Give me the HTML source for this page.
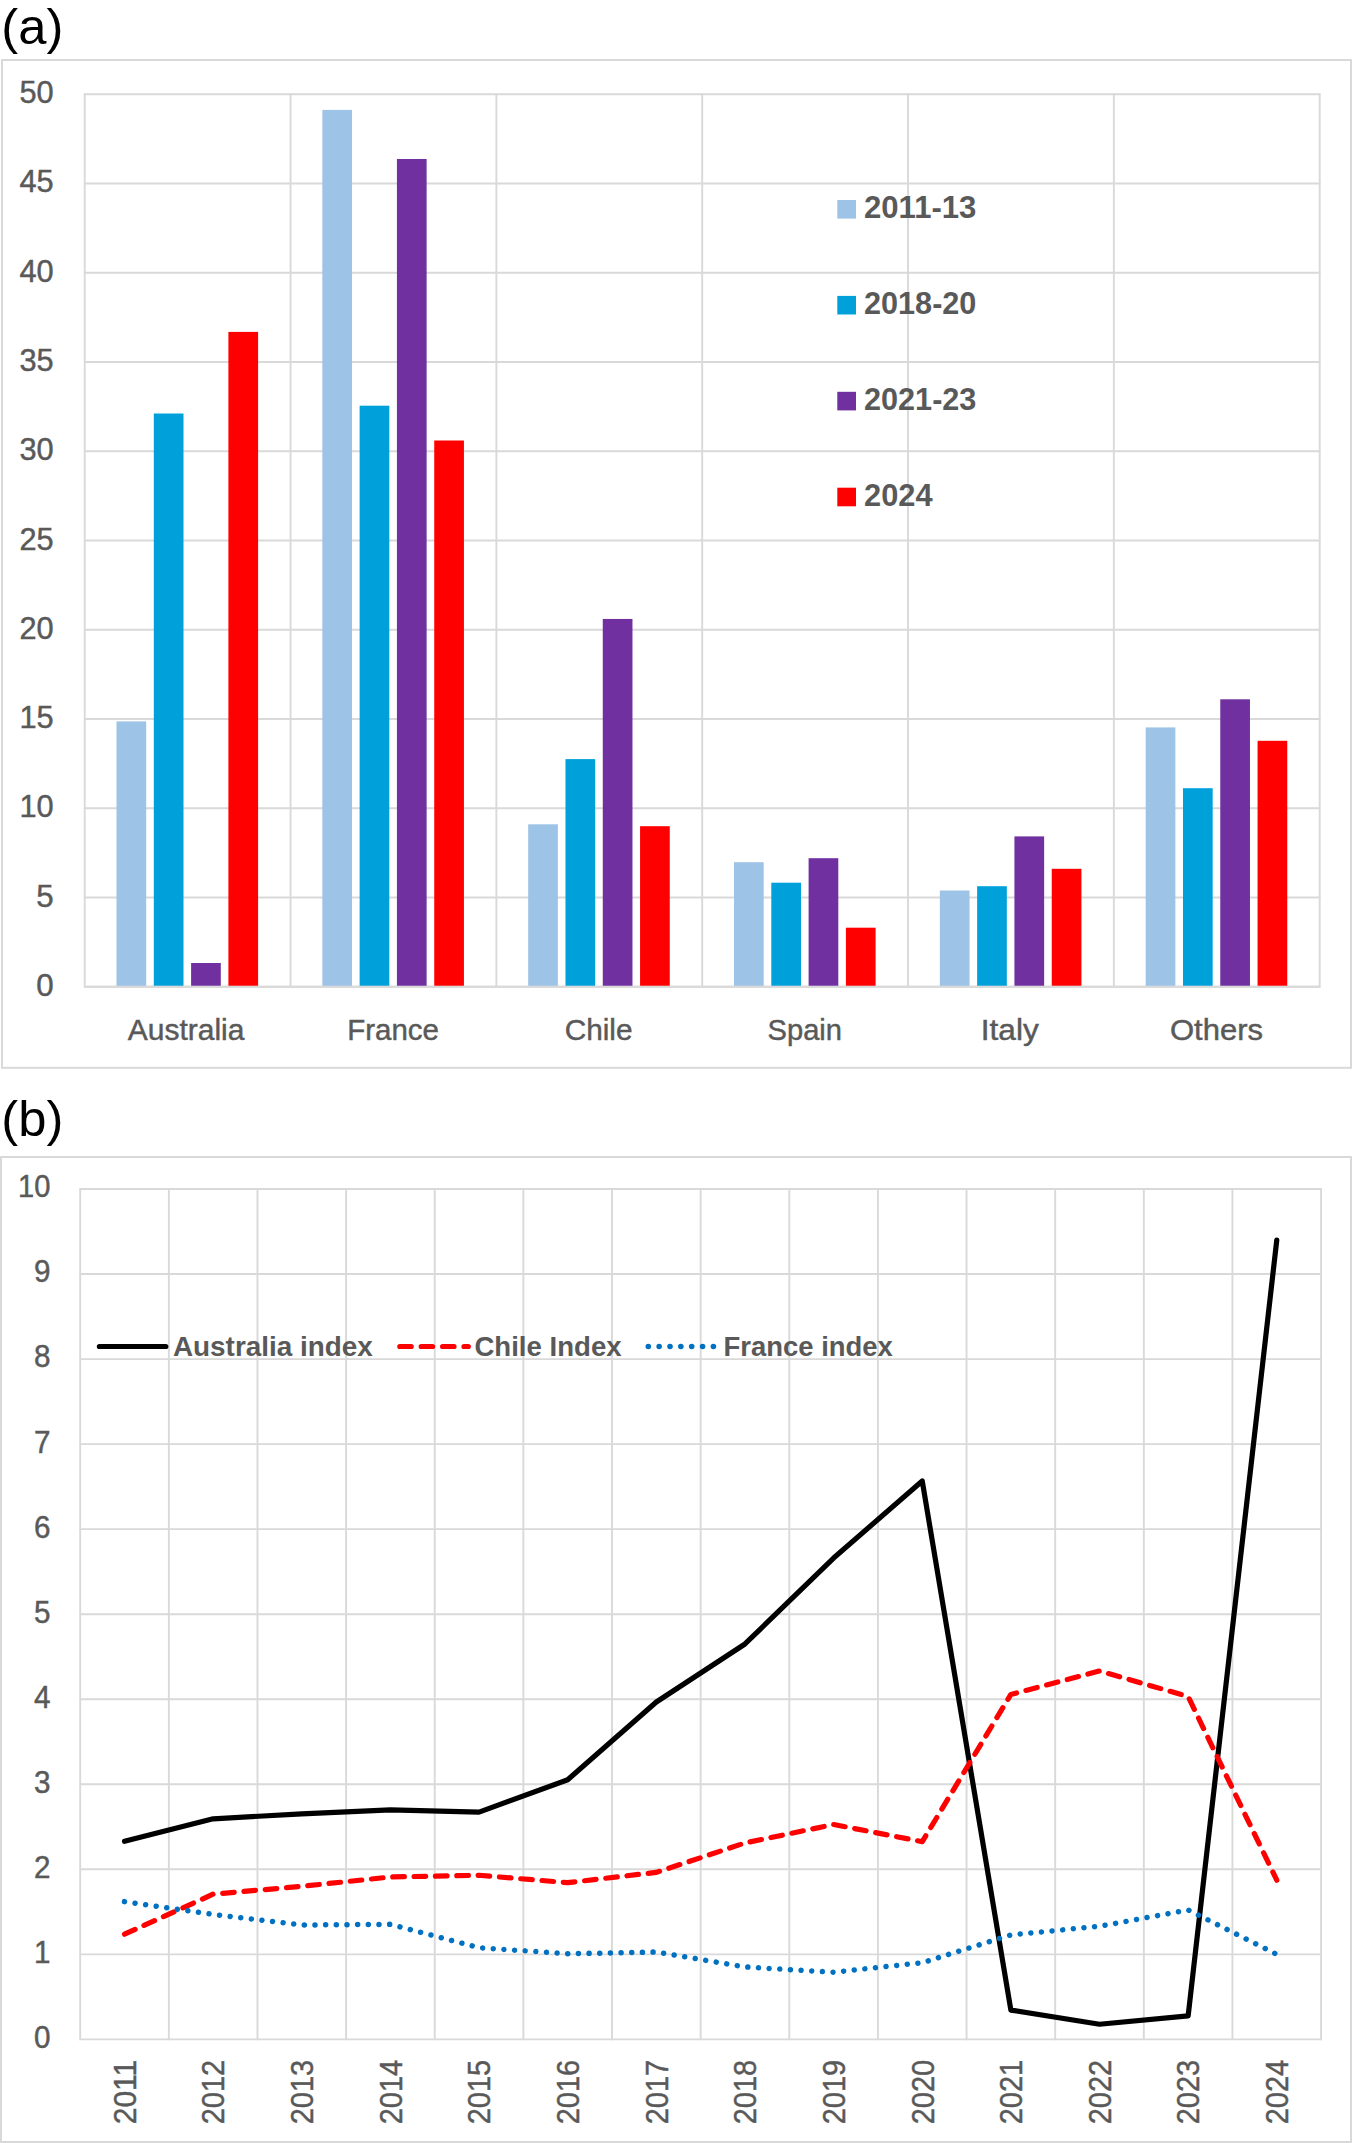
<!DOCTYPE html>
<html lang="en"><head><meta charset="utf-8"><title>Wine import shares and indices</title>
<style>html,body{margin:0;padding:0;background:#fff}body{width:1352px;height:2143px;overflow:hidden}svg{display:block}</style>
</head><body>
<svg width="1352" height="2143" viewBox="0 0 1352 2143" font-family='"Liberation Sans", "DejaVu Sans", sans-serif'>
<rect x="0" y="0" width="1352" height="2143" fill="#ffffff"/>
<text x="1.3" y="43.5" font-size="50.5" fill="#000000" textLength="62" lengthAdjust="spacingAndGlyphs">(a)</text>
<text x="1.3" y="1136.0" font-size="50.5" fill="#000000" textLength="62" lengthAdjust="spacingAndGlyphs">(b)</text>
<rect x="2" y="60" width="1349" height="1007.8" fill="none" stroke="#d9d9d9" stroke-width="2"/>
<rect x="1" y="1157" width="1350" height="985" fill="none" stroke="#d9d9d9" stroke-width="2"/>
<g stroke="#d9d9d9" stroke-width="1.9" stroke-linecap="round" fill="none">
<line x1="84.7" y1="986.80" x2="1319.7" y2="986.80"/>
<line x1="84.7" y1="897.54" x2="1319.7" y2="897.54"/>
<line x1="84.7" y1="808.28" x2="1319.7" y2="808.28"/>
<line x1="84.7" y1="719.02" x2="1319.7" y2="719.02"/>
<line x1="84.7" y1="629.76" x2="1319.7" y2="629.76"/>
<line x1="84.7" y1="540.50" x2="1319.7" y2="540.50"/>
<line x1="84.7" y1="451.24" x2="1319.7" y2="451.24"/>
<line x1="84.7" y1="361.98" x2="1319.7" y2="361.98"/>
<line x1="84.7" y1="272.72" x2="1319.7" y2="272.72"/>
<line x1="84.7" y1="183.46" x2="1319.7" y2="183.46"/>
<line x1="84.7" y1="94.20" x2="1319.7" y2="94.20"/>
<line x1="84.70" y1="94.2" x2="84.70" y2="986.8"/>
<line x1="290.53" y1="94.2" x2="290.53" y2="986.8"/>
<line x1="496.37" y1="94.2" x2="496.37" y2="986.8"/>
<line x1="702.20" y1="94.2" x2="702.20" y2="986.8"/>
<line x1="908.03" y1="94.2" x2="908.03" y2="986.8"/>
<line x1="1113.87" y1="94.2" x2="1113.87" y2="986.8"/>
<line x1="1319.70" y1="94.2" x2="1319.70" y2="986.8"/>
</g>
<g font-size="32" fill="#595959" stroke="#595959" stroke-width="0.45" text-anchor="end">
<text x="53.6" y="995.80" textLength="17.4" lengthAdjust="spacingAndGlyphs">0</text>
<text x="53.6" y="906.54" textLength="17.4" lengthAdjust="spacingAndGlyphs">5</text>
<text x="53.6" y="817.28" textLength="34.2" lengthAdjust="spacingAndGlyphs">10</text>
<text x="53.6" y="728.02" textLength="34.2" lengthAdjust="spacingAndGlyphs">15</text>
<text x="53.6" y="638.76" textLength="34.2" lengthAdjust="spacingAndGlyphs">20</text>
<text x="53.6" y="549.50" textLength="34.2" lengthAdjust="spacingAndGlyphs">25</text>
<text x="53.6" y="460.24" textLength="34.2" lengthAdjust="spacingAndGlyphs">30</text>
<text x="53.6" y="370.98" textLength="34.2" lengthAdjust="spacingAndGlyphs">35</text>
<text x="53.6" y="281.72" textLength="34.2" lengthAdjust="spacingAndGlyphs">40</text>
<text x="53.6" y="192.46" textLength="34.2" lengthAdjust="spacingAndGlyphs">45</text>
<text x="53.6" y="103.20" textLength="34.2" lengthAdjust="spacingAndGlyphs">50</text>
</g>
<rect x="116.50" y="721.40" width="29.7" height="264.55" fill="#9dc3e6"/>
<rect x="153.80" y="413.50" width="29.7" height="572.45" fill="#00a1da"/>
<rect x="191.10" y="963.00" width="29.7" height="22.95" fill="#7030a0"/>
<rect x="228.40" y="331.90" width="29.7" height="654.05" fill="#ff0000"/>
<rect x="322.33" y="109.90" width="29.7" height="876.05" fill="#9dc3e6"/>
<rect x="359.63" y="405.70" width="29.7" height="580.25" fill="#00a1da"/>
<rect x="396.93" y="159.00" width="29.7" height="826.95" fill="#7030a0"/>
<rect x="434.23" y="440.50" width="29.7" height="545.45" fill="#ff0000"/>
<rect x="528.17" y="824.30" width="29.7" height="161.65" fill="#9dc3e6"/>
<rect x="565.47" y="759.10" width="29.7" height="226.85" fill="#00a1da"/>
<rect x="602.77" y="618.95" width="29.7" height="367.00" fill="#7030a0"/>
<rect x="640.07" y="826.20" width="29.7" height="159.75" fill="#ff0000"/>
<rect x="734.00" y="862.20" width="29.7" height="123.75" fill="#9dc3e6"/>
<rect x="771.30" y="882.70" width="29.7" height="103.25" fill="#00a1da"/>
<rect x="808.60" y="858.20" width="29.7" height="127.75" fill="#7030a0"/>
<rect x="845.90" y="927.70" width="29.7" height="58.25" fill="#ff0000"/>
<rect x="939.83" y="890.50" width="29.7" height="95.45" fill="#9dc3e6"/>
<rect x="977.13" y="886.20" width="29.7" height="99.75" fill="#00a1da"/>
<rect x="1014.43" y="836.40" width="29.7" height="149.55" fill="#7030a0"/>
<rect x="1051.73" y="868.80" width="29.7" height="117.15" fill="#ff0000"/>
<rect x="1145.67" y="727.40" width="29.7" height="258.55" fill="#9dc3e6"/>
<rect x="1182.97" y="788.20" width="29.7" height="197.75" fill="#00a1da"/>
<rect x="1220.27" y="699.30" width="29.7" height="286.65" fill="#7030a0"/>
<rect x="1257.57" y="740.80" width="29.7" height="245.15" fill="#ff0000"/>
<line x1="84.7" y1="986.8" x2="1319.7" y2="986.8" stroke="#d9d9d9" stroke-width="1.9"/>
<g font-size="29.5" fill="#595959" stroke="#595959" stroke-width="0.45" text-anchor="middle">
<text x="186.12" y="1040.2" textLength="116.7" lengthAdjust="spacingAndGlyphs">Australia</text>
<text x="393.10" y="1040.2" textLength="91.7" lengthAdjust="spacingAndGlyphs">France</text>
<text x="598.58" y="1040.2" textLength="67.8" lengthAdjust="spacingAndGlyphs">Chile</text>
<text x="804.77" y="1040.2" textLength="74.4" lengthAdjust="spacingAndGlyphs">Spain</text>
<text x="1009.75" y="1040.2" textLength="58" lengthAdjust="spacingAndGlyphs">Italy</text>
<text x="1216.48" y="1040.2" textLength="93" lengthAdjust="spacingAndGlyphs">Others</text>
</g>
<g font-size="32" font-weight="bold" fill="#595959">
<rect x="837.3" y="200.00" width="18.7" height="18.6" fill="#9dc3e6"/>
<text x="864.0" y="217.90" textLength="112.4" lengthAdjust="spacingAndGlyphs">2011-13</text>
<rect x="837.3" y="295.90" width="18.7" height="18.6" fill="#00a1da"/>
<text x="864.0" y="313.80" textLength="112.4" lengthAdjust="spacingAndGlyphs">2018-20</text>
<rect x="837.3" y="391.80" width="18.7" height="18.6" fill="#7030a0"/>
<text x="864.0" y="409.70" textLength="112.4" lengthAdjust="spacingAndGlyphs">2021-23</text>
<rect x="837.3" y="487.70" width="18.7" height="18.6" fill="#ff0000"/>
<text x="864.0" y="505.60" textLength="68.5" lengthAdjust="spacingAndGlyphs">2024</text>
</g>
<g stroke="#d9d9d9" stroke-width="1.9" stroke-linecap="round" fill="none">
<line x1="80.2" y1="2039.40" x2="1321.1" y2="2039.40"/>
<line x1="80.2" y1="1954.36" x2="1321.1" y2="1954.36"/>
<line x1="80.2" y1="1869.32" x2="1321.1" y2="1869.32"/>
<line x1="80.2" y1="1784.28" x2="1321.1" y2="1784.28"/>
<line x1="80.2" y1="1699.24" x2="1321.1" y2="1699.24"/>
<line x1="80.2" y1="1614.20" x2="1321.1" y2="1614.20"/>
<line x1="80.2" y1="1529.16" x2="1321.1" y2="1529.16"/>
<line x1="80.2" y1="1444.12" x2="1321.1" y2="1444.12"/>
<line x1="80.2" y1="1359.08" x2="1321.1" y2="1359.08"/>
<line x1="80.2" y1="1274.04" x2="1321.1" y2="1274.04"/>
<line x1="80.2" y1="1189.00" x2="1321.1" y2="1189.00"/>
<line x1="80.20" y1="1189.0" x2="80.20" y2="2039.4"/>
<line x1="168.84" y1="1189.0" x2="168.84" y2="2039.4"/>
<line x1="257.47" y1="1189.0" x2="257.47" y2="2039.4"/>
<line x1="346.11" y1="1189.0" x2="346.11" y2="2039.4"/>
<line x1="434.74" y1="1189.0" x2="434.74" y2="2039.4"/>
<line x1="523.38" y1="1189.0" x2="523.38" y2="2039.4"/>
<line x1="612.01" y1="1189.0" x2="612.01" y2="2039.4"/>
<line x1="700.65" y1="1189.0" x2="700.65" y2="2039.4"/>
<line x1="789.29" y1="1189.0" x2="789.29" y2="2039.4"/>
<line x1="877.92" y1="1189.0" x2="877.92" y2="2039.4"/>
<line x1="966.56" y1="1189.0" x2="966.56" y2="2039.4"/>
<line x1="1055.19" y1="1189.0" x2="1055.19" y2="2039.4"/>
<line x1="1143.83" y1="1189.0" x2="1143.83" y2="2039.4"/>
<line x1="1232.46" y1="1189.0" x2="1232.46" y2="2039.4"/>
<line x1="1321.10" y1="1189.0" x2="1321.10" y2="2039.4"/>
</g>
<g font-size="30.5" fill="#595959" stroke="#595959" stroke-width="0.45" text-anchor="end">
<text x="50.5" y="2047.80" textLength="16.5" lengthAdjust="spacingAndGlyphs">0</text>
<text x="50.5" y="1962.76" textLength="16.5" lengthAdjust="spacingAndGlyphs">1</text>
<text x="50.5" y="1877.72" textLength="16.5" lengthAdjust="spacingAndGlyphs">2</text>
<text x="50.5" y="1792.68" textLength="16.5" lengthAdjust="spacingAndGlyphs">3</text>
<text x="50.5" y="1707.64" textLength="16.5" lengthAdjust="spacingAndGlyphs">4</text>
<text x="50.5" y="1622.60" textLength="16.5" lengthAdjust="spacingAndGlyphs">5</text>
<text x="50.5" y="1537.56" textLength="16.5" lengthAdjust="spacingAndGlyphs">6</text>
<text x="50.5" y="1452.52" textLength="16.5" lengthAdjust="spacingAndGlyphs">7</text>
<text x="50.5" y="1367.48" textLength="16.5" lengthAdjust="spacingAndGlyphs">8</text>
<text x="50.5" y="1282.44" textLength="16.5" lengthAdjust="spacingAndGlyphs">9</text>
<text x="50.5" y="1197.40" textLength="32.4" lengthAdjust="spacingAndGlyphs">10</text>
</g>
<g font-size="31" fill="#595959" stroke="#595959" stroke-width="0.45">
<text transform="translate(135.82 2124.3) rotate(-90)" textLength="64.5" lengthAdjust="spacingAndGlyphs">2011</text>
<text transform="translate(224.45 2124.3) rotate(-90)" textLength="64.5" lengthAdjust="spacingAndGlyphs">2012</text>
<text transform="translate(313.09 2124.3) rotate(-90)" textLength="64.5" lengthAdjust="spacingAndGlyphs">2013</text>
<text transform="translate(401.72 2124.3) rotate(-90)" textLength="64.5" lengthAdjust="spacingAndGlyphs">2014</text>
<text transform="translate(490.36 2124.3) rotate(-90)" textLength="64.5" lengthAdjust="spacingAndGlyphs">2015</text>
<text transform="translate(579.00 2124.3) rotate(-90)" textLength="64.5" lengthAdjust="spacingAndGlyphs">2016</text>
<text transform="translate(667.63 2124.3) rotate(-90)" textLength="64.5" lengthAdjust="spacingAndGlyphs">2017</text>
<text transform="translate(756.27 2124.3) rotate(-90)" textLength="64.5" lengthAdjust="spacingAndGlyphs">2018</text>
<text transform="translate(844.90 2124.3) rotate(-90)" textLength="64.5" lengthAdjust="spacingAndGlyphs">2019</text>
<text transform="translate(933.54 2124.3) rotate(-90)" textLength="64.5" lengthAdjust="spacingAndGlyphs">2020</text>
<text transform="translate(1022.17 2124.3) rotate(-90)" textLength="64.5" lengthAdjust="spacingAndGlyphs">2021</text>
<text transform="translate(1110.81 2124.3) rotate(-90)" textLength="64.5" lengthAdjust="spacingAndGlyphs">2022</text>
<text transform="translate(1199.45 2124.3) rotate(-90)" textLength="64.5" lengthAdjust="spacingAndGlyphs">2023</text>
<text transform="translate(1288.08 2124.3) rotate(-90)" textLength="64.5" lengthAdjust="spacingAndGlyphs">2024</text>
</g>
<polyline points="124.52,1841.26 213.15,1818.81 301.79,1813.79 390.42,1809.79 479.06,1812.09 567.70,1779.77 656.33,1701.96 744.97,1643.96 833.60,1558.07 922.24,1480.94 1010.87,2010.06 1099.51,2024.26 1188.15,2015.84 1276.78,1240.02" fill="none" stroke="#000000" stroke-width="5.2" stroke-linecap="round" stroke-linejoin="round"/>
<polyline points="124.52,1934.21 213.15,1894.15 301.79,1886.33 390.42,1876.97 479.06,1875.27 567.70,1882.67 656.33,1872.38 744.97,1842.96 833.60,1824.50 922.24,1841.68 1010.87,1694.39 1099.51,1671.01 1188.15,1696.52 1276.78,1880.21" fill="none" stroke="#ff0000" stroke-width="5.2" stroke-linecap="round" stroke-linejoin="round" stroke-dasharray="11.6 9.76"/>
<polyline points="124.52,1901.64 213.15,1914.39 301.79,1925.02 390.42,1924.34 479.06,1947.73 567.70,1953.76 656.33,1952.06 744.97,1966.95 833.60,1972.22 922.24,1962.69 1010.87,1934.89 1099.51,1926.30 1188.15,1909.97 1276.78,1954.36" fill="none" stroke="#0070c0" stroke-width="5.5" stroke-linecap="round" stroke-linejoin="round" stroke-dasharray="0.01 10.657"/>
<line x1="99.4" y1="1346.5" x2="165.8" y2="1346.5" stroke="#000000" stroke-width="5.2" stroke-linecap="round"/>
<line x1="399.8" y1="1346.5" x2="468.3" y2="1346.5" stroke="#ff0000" stroke-width="5.2" stroke-linecap="round" stroke-dasharray="11.4 10"/>
<line x1="648.3" y1="1346.5" x2="713.6" y2="1346.5" stroke="#0070c0" stroke-width="5.6" stroke-linecap="round" stroke-dasharray="0.01 10.84"/>
<g font-size="28.5" font-weight="bold" fill="#595959">
<text x="172.9" y="1355.6" textLength="200" lengthAdjust="spacingAndGlyphs">Australia index</text>
<text x="474.4" y="1355.6" textLength="147.2" lengthAdjust="spacingAndGlyphs">Chile Index</text>
<text x="723.6" y="1355.6" textLength="169.2" lengthAdjust="spacingAndGlyphs">France index</text>
</g>
</svg>
</body></html>
